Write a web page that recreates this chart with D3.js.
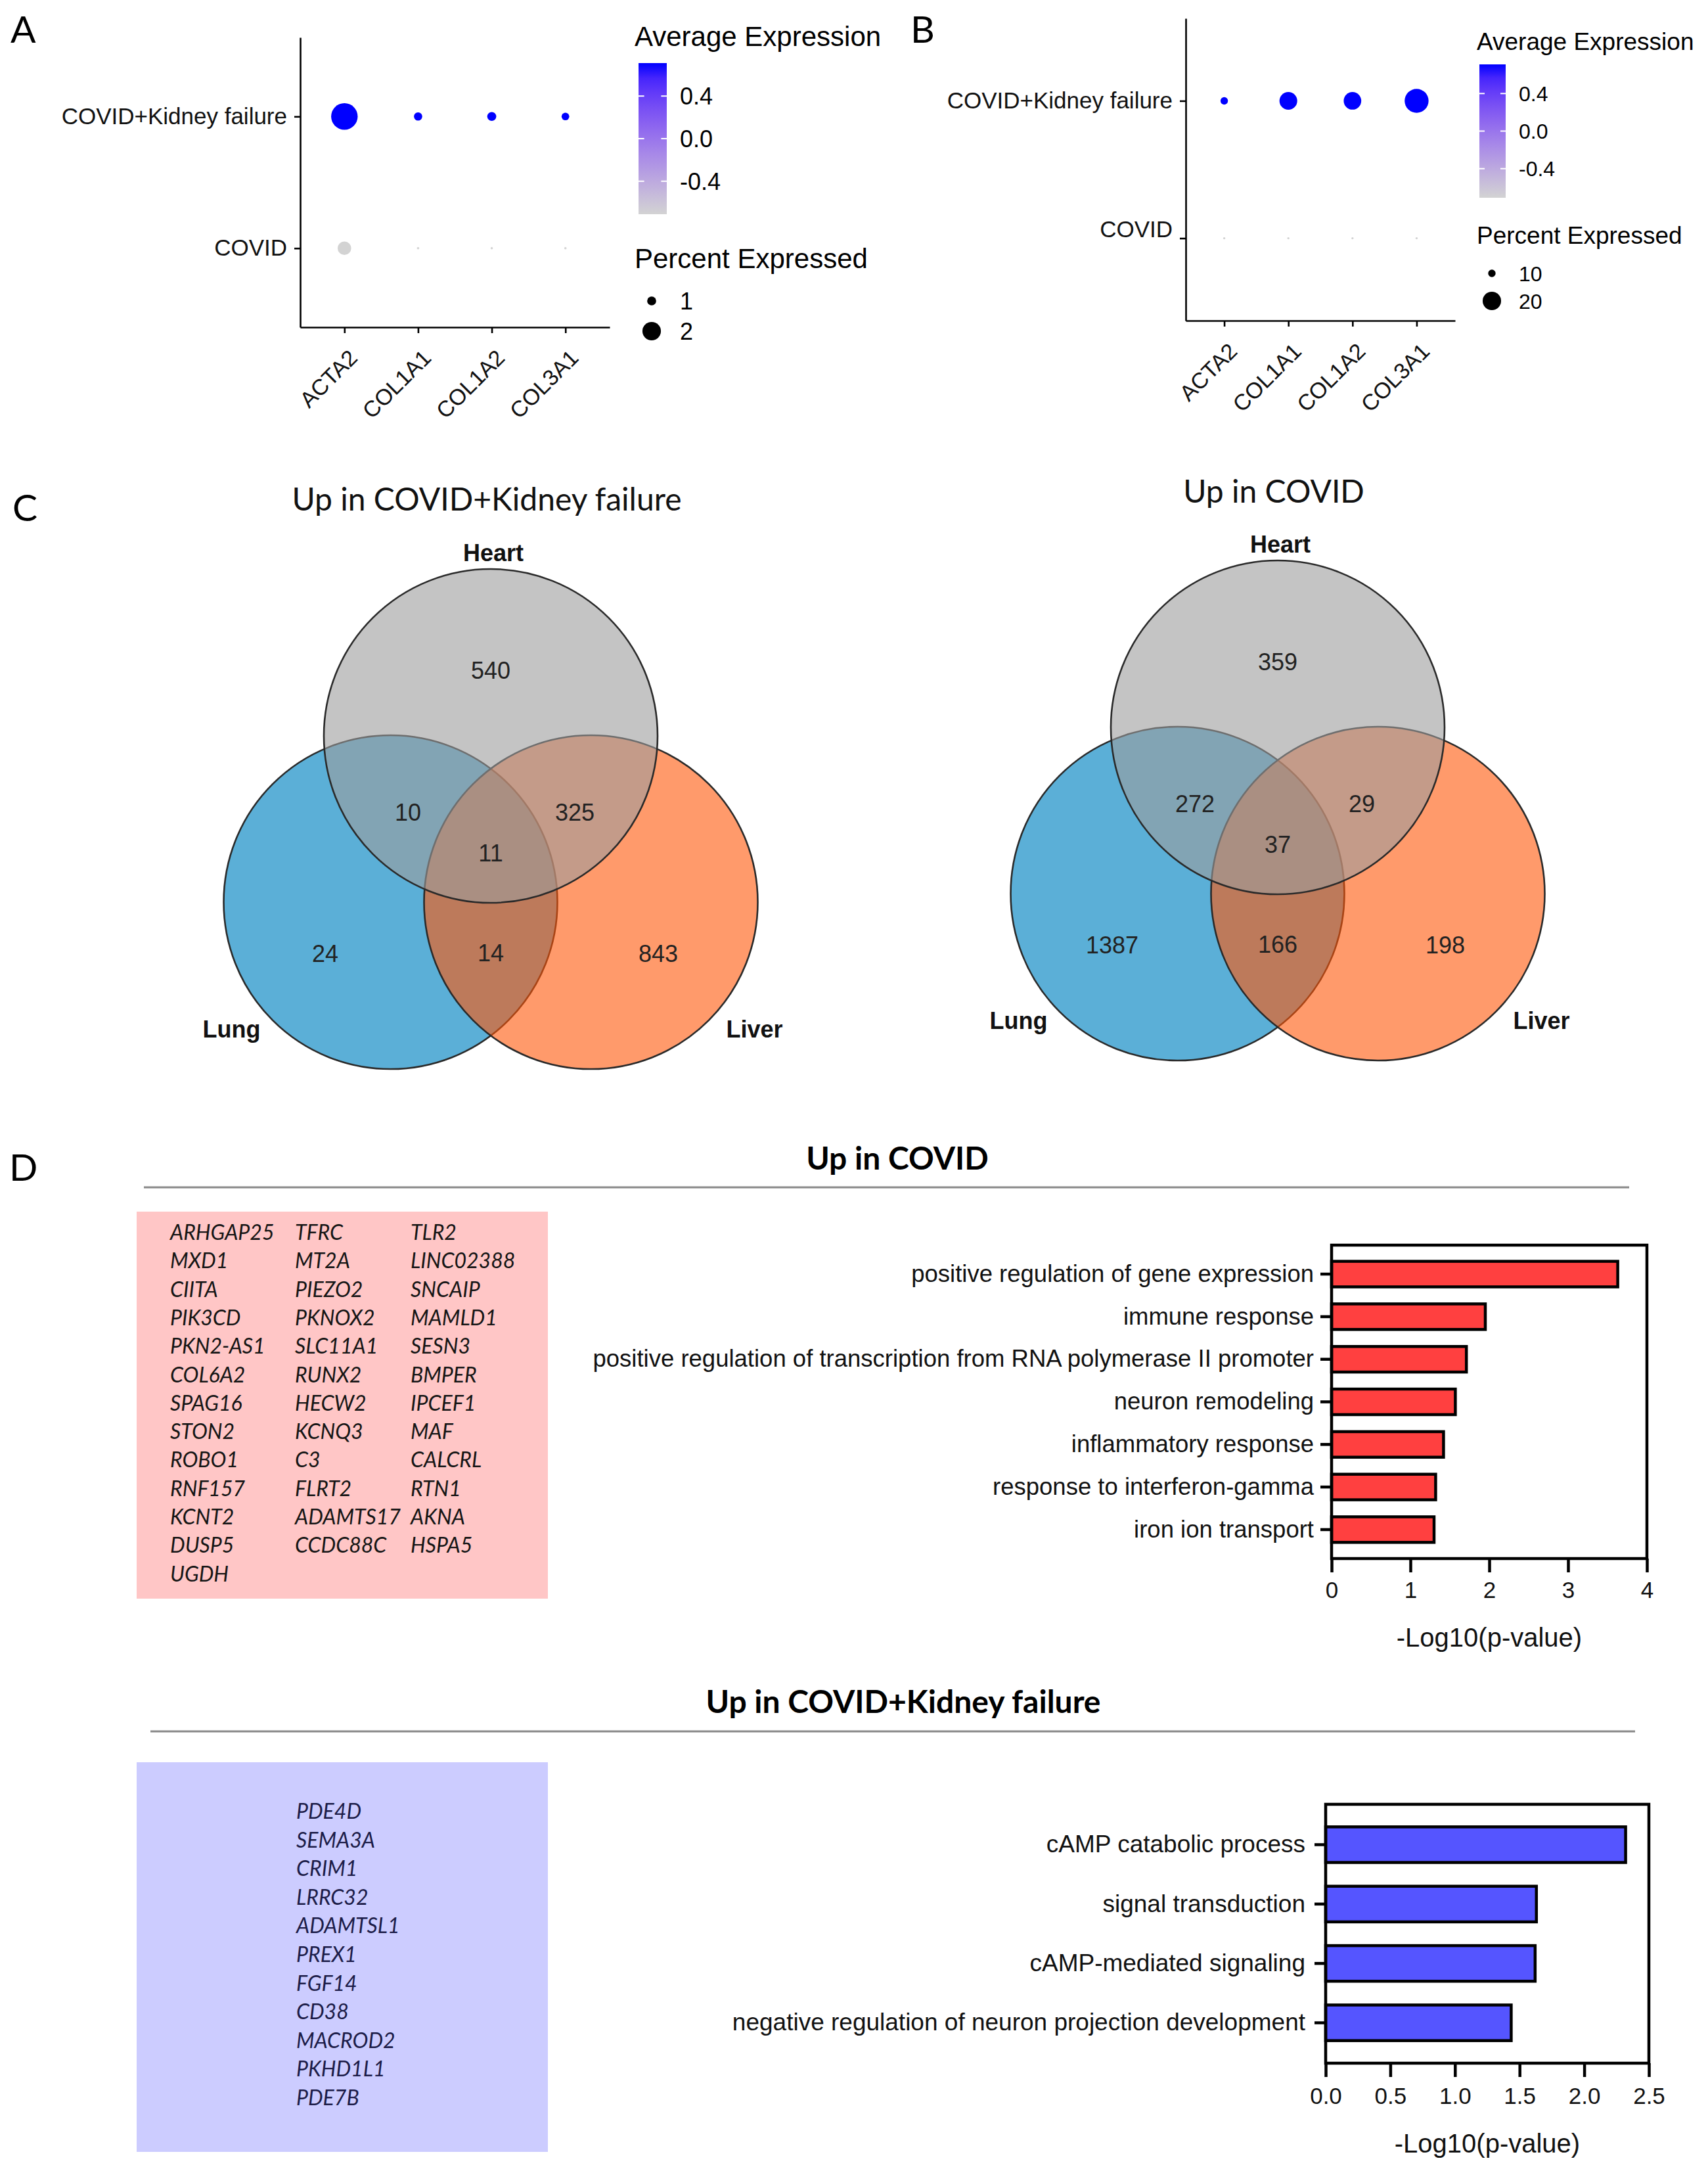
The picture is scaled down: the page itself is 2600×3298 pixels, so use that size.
<!DOCTYPE html>
<html>
<head>
<meta charset="utf-8">
<script src="https://cdn.jsdelivr.net/npm/d3@7"></script>
<style>
  body { margin: 0; background: #fff; }
  svg { display: block; }
</style>
</head>
<body>
<svg id="fig" width="2600" height="3298"></svg>
<script>
// ---------- data ----------
// panels A / B : dot plots
const genes = ["ACTA2", "COL1A1", "COL1A2", "COL3A1"]
const groups = ["COVID+Kidney failure", "COVID"]

const pctA_kidney = [2.85, 0.92, 1.0, 0.86]
const pctA_covid = [1.48, 0.3, 0.3, 0.3]
const avgA_kidney = [0.71, 0.71, 0.71, 0.71]
const avgA_covid = [-0.71, -0.71, -0.71, -0.71]

const pctB_kidney = [10, 19.4, 19.2, 25]
const pctB_covid = [5.2, 5.2, 5.2, 5.2]
const avgB_kidney = [0.71, 0.71, 0.71, 0.71]
const avgB_covid = [-0.71, -0.71, -0.71, -0.71]

const colorTicks = [-0.4, 0.0, 0.4]
const pctTicksA = [1, 2]
const pctTicksB = [10, 20]

// panel C : venn counts (heart, heart&lung, heart&liver, all, lung, lung&liver, liver)
const vennSets = ["Heart", "Lung", "Liver"]
const vennKidney = [540, 10, 325, 11, 24, 14, 843]
const vennCovid = [359, 272, 29, 37, 1387, 166, 198]

// panel D : gene lists and GO terms
const covidGenes1 = ["ARHGAP25", "MXD1", "CIITA", "PIK3CD", "PKN2-AS1", "COL6A2", "SPAG16", "STON2", "ROBO1", "RNF157", "KCNT2", "DUSP5", "UGDH"]
const covidGenes2 = ["TFRC", "MT2A", "PIEZO2", "PKNOX2", "SLC11A1", "RUNX2", "HECW2", "KCNQ3", "C3", "FLRT2", "ADAMTS17", "CCDC88C"]
const covidGenes3 = ["TLR2", "LINC02388", "SNCAIP", "MAMLD1", "SESN3", "BMPER", "IPCEF1", "MAF", "CALCRL", "RTN1", "AKNA", "HSPA5"]
const kidneyGenes = ["PDE4D", "SEMA3A", "CRIM1", "LRRC32", "ADAMTSL1", "PREX1", "FGF14", "CD38", "MACROD2", "PKHD1L1", "PDE7B"]

const covidTerms = ["positive regulation of gene expression", "immune response",
  "positive regulation of transcription from RNA polymerase II promoter", "neuron remodeling",
  "inflammatory response", "response to interferon-gamma", "iron ion transport"]
const covidLogP = [3.63, 1.95, 1.71, 1.57, 1.42, 1.32, 1.30]
const covidTicks = [0, 1, 2, 3, 4]

const kidneyTerms = ["cAMP catabolic process", "signal transduction", "cAMP-mediated signaling",
  "negative regulation of neuron projection development"]
const kidneyLogP = [2.32, 1.63, 1.62, 1.435]
const kidneyTicks = [0, 0.5, 1.0, 1.5, 2.0, 2.5]

// ---------- setup ----------
const ARIAL = "'Liberation Sans', Arial, sans-serif"
const CALI = "Lato, 'Open Sans', sans-serif"
const svg = d3.select("#fig")
const defs = svg.append("defs")
const fmt1 = v => d3.format(".1f")(v).replace("\u2212", "-")

function letter(t, x, y) {
  svg.append("text").attr("x", x).attr("y", y).text(t)
    .style("font-family", CALI).style("font-size", "57px")
}
letter("A", 16, 65)
letter("B", 1386, 65)
letter("C", 19, 793)
letter("D", 14, 1797)

// ---------- dot plots ----------
function dotPlot(o) {
  const x = d3.scalePoint().domain(genes).range([o.x0, o.x1]).padding(0.6)
  const y = d3.scalePoint().domain(groups).range([o.y0, o.y1]).padding(0.6)
  const r = d3.scaleLinear().domain(o.pctDomain).range(o.rRange)
  const col = d3.scaleLinear().domain([-0.71, 0.71]).range(["#d3d3d3", "#0000ff"])
    .interpolate(d3.interpolateLab).clamp(true)

  const g = svg.append("g")

  const xa = g.append("g").attr("transform", `translate(0,${o.y1})`)
    .call(d3.axisBottom(x).tickSize(9).tickSizeOuter(0).tickFormat(""))
  const ya = g.append("g").attr("transform", `translate(${o.x0},0)`)
    .call(d3.axisLeft(y).tickSize(9).tickSizeOuter(0).tickPadding(11))
  ;[xa, ya].forEach(a => {
    a.selectAll("path, line").attr("stroke", "#000").attr("stroke-width", 2.6)
  })
  ya.selectAll("text").style("font-family", ARIAL).style("font-size", "35px").attr("fill", "#111")
    .attr("dy", d => d == "COVID" ? (o.covidShift / 35 + 0.32) + "em" : "0.32em")

  g.selectAll(".xlab").data(genes).enter().append("text")
    .attr("transform", d => `translate(${x(d) + 5},${o.y1 + 32}) rotate(-45)`)
    .attr("dy", "0.7em")
    .attr("text-anchor", "end")
    .style("font-family", ARIAL).style("font-size", "34px").attr("fill", "#111")
    .text(d => d)

  const rows = []
  genes.forEach((gn, i) => {
    rows.push({ gene: gn, group: groups[0], pct: o.pctK[i], avg: o.avgK[i] })
    rows.push({ gene: gn, group: groups[1], pct: o.pctC[i], avg: o.avgC[i] })
  })
  g.selectAll(".dot").data(rows).enter().append("circle")
    .attr("cx", d => x(d.gene))
    .attr("cy", d => y(d.group))
    .attr("r", d => r(d.pct))
    .attr("fill", d => col(d.avg))

  // colour bar legend
  const gid = "grad" + o.id
  const grad = defs.append("linearGradient").attr("id", gid)
    .attr("x1", 0).attr("y1", 1).attr("x2", 0).attr("y2", 0)
  d3.range(0, 1.0001, 0.1).forEach(t => {
    grad.append("stop").attr("offset", t).attr("stop-color", col(-0.71 + t * 1.42))
  })
  const cb = d3.scaleLinear().domain([-0.71, 0.71]).range([o.cbY + o.cbH, o.cbY])
  g.append("text").attr("x", o.legX).attr("y", o.titleY).text("Average Expression")
    .style("font-family", ARIAL).style("font-size", o.legTitle + "px")
  g.append("rect").attr("x", o.cbX).attr("y", o.cbY).attr("width", o.cbW).attr("height", o.cbH)
    .attr("fill", `url(#${gid})`)
  colorTicks.forEach(v => {
    g.append("line").attr("x1", o.cbX).attr("x2", o.cbX + o.cbW / 5)
      .attr("y1", cb(v)).attr("y2", cb(v)).attr("stroke", "#fff").attr("stroke-width", 2)
    g.append("line").attr("x1", o.cbX + o.cbW * 0.8).attr("x2", o.cbX + o.cbW)
      .attr("y1", cb(v)).attr("y2", cb(v)).attr("stroke", "#fff").attr("stroke-width", 2)
    g.append("text").attr("x", o.cbX + o.cbW + 20).attr("y", cb(v)).attr("dy", "0.36em")
      .text(fmt1(v))
      .style("font-family", ARIAL).style("font-size", o.legTick + "px")
  })
  g.append("text").attr("x", o.legX).attr("y", o.pctTitleY).text("Percent Expressed")
    .style("font-family", ARIAL).style("font-size", o.legTitle + "px")
  o.pctTicks.forEach((v, i) => {
    g.append("circle").attr("cx", o.dotX).attr("cy", o.pctRows[i]).attr("r", r(v)).attr("fill", "#000")
    g.append("text").attr("x", o.cbX + o.cbW + 20).attr("y", o.pctRows[i]).attr("dy", "0.36em")
      .text(v).style("font-family", ARIAL).style("font-size", o.legTick + "px")
  })
}

dotPlot({
  id: "A", x0: 457, x1: 928, y0: 57, y1: 498,
  pctK: pctA_kidney, pctC: pctA_covid, avgK: avgA_kidney, avgC: avgA_covid,
  pctDomain: [0.3, 2.85], rRange: [1.8, 20.2], covidShift: 0,
  legX: 966, titleY: 70, legTitle: 42, legTick: 36,
  cbX: 972, cbY: 96, cbW: 43, cbH: 230,
  pctTitleY: 408, pctTicks: pctTicksA, pctRows: [458, 504], dotX: 992
})

dotPlot({
  id: "B", x0: 1805, x1: 2215, y0: 28, y1: 488,
  pctK: pctB_kidney, pctC: pctB_covid, avgK: avgB_kidney, avgC: avgB_covid,
  pctDomain: [5, 25], rRange: [1.5, 18.2], covidShift: -13,
  legX: 2248, titleY: 76, legTitle: 37, legTick: 32,
  cbX: 2252, cbY: 98, cbW: 40, cbH: 203,
  pctTitleY: 371, pctTicks: pctTicksB, pctRows: [416, 458], dotX: 2271
})

// ---------- venn diagrams ----------
function venn(o) {
  const R = 254, dx = 152.5, dy = 253
  const g = svg.append("g")
  const circ = [
    { name: "Lung", cx: o.cx - dx, cy: o.cy + dy, fill: "#5BAFD7", op: 1 },
    { name: "Liver", cx: o.cx + dx, cy: o.cy + dy, fill: "#FF5708", op: 0.6 },
    { name: "Heart", cx: o.cx, cy: o.cy, fill: "#9D9D9D", op: 0.6 }
  ]
  circ.forEach(c => {
    g.append("circle").attr("cx", c.cx).attr("cy", c.cy).attr("r", R)
      .attr("fill", c.fill).attr("fill-opacity", c.op)
      .attr("stroke", "#2a2a2a").attr("stroke-width", 2.6)
  })
  const off = [[0, -100], [-126, 116], [128, 116], [0, 178], [-252, 331], [0, 330], [255, 331]]
  g.selectAll(".cnt").data(o.counts).enter().append("text")
    .attr("x", (d, i) => o.cx + off[i][0])
    .attr("y", (d, i) => o.cy + off[i][1])
    .attr("dy", "0.36em").attr("text-anchor", "middle")
    .style("font-family", ARIAL).style("font-size", "36px").attr("fill", "#222")
    .text(d => d)
  const setPos = [[o.cx + 4, o.cy - 279], [o.cx - dx - 242, o.cy + dy + 193], [o.cx + dx + 249, o.cy + dy + 193]]
  vennSets.forEach((s, i) => {
    g.append("text").attr("x", setPos[i][0]).attr("y", setPos[i][1]).attr("dy", "0.36em")
      .attr("text-anchor", "middle").text(s)
      .style("font-family", ARIAL).style("font-weight", "bold").style("font-size", "36px").attr("fill", "#111")
  })
  g.append("text").attr("x", o.cx - 6).attr("y", o.titleY).attr("text-anchor", "middle").text(o.title)
    .style("font-family", CALI).style("font-size", "48px").attr("fill", "#111")
}
venn({ cx: 747, cy: 1120, counts: vennKidney, title: "Up in COVID+Kidney failure", titleY: 777 })
venn({ cx: 1945, cy: 1107, counts: vennCovid, title: "Up in COVID", titleY: 765 })

// ---------- panel D ----------
function section(title, cx, ty, x1, x2, ry) {
  svg.append("text").attr("x", cx).attr("y", ty).attr("text-anchor", "middle").text(title)
    .style("font-family", CALI).style("font-weight", "bold").style("font-size", "48px")
  svg.append("line").attr("x1", x1).attr("x2", x2).attr("y1", ry).attr("y2", ry)
    .attr("stroke", "#888").attr("stroke-width", 3)
}
section("Up in COVID", 1366, 1780, 219, 2480, 1807)
section("Up in COVID+Kidney failure", 1375, 2607, 229, 2489, 2635)

function geneBox(cols, colX, x, y, w, h, y0, step, fill, color) {
  svg.append("rect").attr("x", x).attr("y", y).attr("width", w).attr("height", h).attr("fill", fill)
  cols.forEach((list, c) => {
    svg.selectAll(null).data(list).enter().append("text")
      .attr("x", colX[c]).attr("y", (d, i) => y0 + i * step)
      .style("font-family", CALI).style("font-style", "italic").style("font-size", "32px")
      .attr("fill", color).text(d => d)
  })
}
geneBox([covidGenes1, covidGenes2, covidGenes3], [259, 449, 625], 208, 1844, 626, 589, 1887, 43.3, "#FFC6C6", "#151515")
geneBox([kidneyGenes], [451], 208, 2682, 626, 593, 2768, 43.6, "#CCCCFF", "#1C1C48")

function barChart(o) {
  const x = d3.scaleLinear().domain([0, o.ticks[o.ticks.length - 1]]).range([o.x0, o.x1])
  const y = d3.scaleBand().domain(o.terms).range([o.y0, o.y1]).paddingInner(0.4).paddingOuter(0.38)
  const g = svg.append("g")

  g.selectAll(".bar").data(o.terms).enter().append("rect")
    .attr("x", x(0)).attr("y", d => y(d))
    .attr("width", (d, i) => x(o.values[i]) - x(0))
    .attr("height", y.bandwidth())
    .attr("fill", o.color).attr("stroke", "#000").attr("stroke-width", 4.5)

  g.append("rect").attr("x", o.x0).attr("y", o.y0).attr("width", o.x1 - o.x0).attr("height", o.y1 - o.y0)
    .attr("fill", "none").attr("stroke", "#000").attr("stroke-width", 4.5)

  const xa = g.append("g").attr("transform", `translate(0,${o.y1})`)
    .call(d3.axisBottom(x).tickValues(o.ticks).tickSize(21).tickSizeOuter(0).tickPadding(o.xPad).tickFormat(o.fmt))
  const ya = g.append("g").attr("transform", `translate(${o.x0},0)`)
    .call(d3.axisLeft(y).tickSize(17).tickSizeOuter(0).tickPadding(o.yPad))
  ;[xa, ya].forEach(a => {
    a.select(".domain").remove()
    a.selectAll("line").attr("stroke", "#000").attr("stroke-width", 4.5)
    a.selectAll("text").style("font-family", ARIAL).style("font-size", "35px").attr("fill", "#111")
  })
  ya.selectAll("text").style("font-size", o.labSize + "px")
  g.append("text").attr("x", (o.x0 + o.x1) / 2).attr("y", o.titleY).attr("text-anchor", "middle")
    .text("-Log10(p-value)").style("font-family", ARIAL).style("font-size", "40px").attr("fill", "#111")
}

barChart({
  terms: covidTerms, values: covidLogP, ticks: covidTicks, fmt: d3.format("d"),
  x0: 2027, x1: 2507, y0: 1895, y1: 2372, color: "#FF4040", xPad: 14, yPad: 10, titleY: 2506, labSize: 36.5
})
barChart({
  terms: kidneyTerms, values: kidneyLogP, ticks: kidneyTicks, fmt: d3.format(".1f"),
  x0: 2018, x1: 2510, y0: 2746, y1: 3140, color: "#5555FF", xPad: 16, yPad: 14, titleY: 3276, labSize: 37
})
</script>
</body>
</html>
